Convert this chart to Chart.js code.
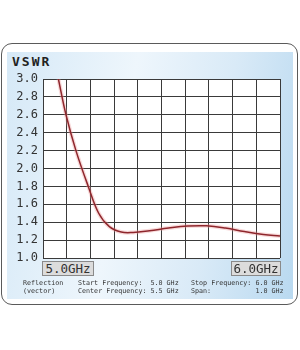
<!DOCTYPE html>
<html>
<head>
<meta charset="utf-8">
<script src="https://cdn.jsdelivr.net/npm/chart.js@4.4.1/dist/chart.umd.min.js"></script>
<style>
  body { margin: 0; width: 300px; height: 350px; background: #fff; position: relative; overflow: hidden; }
  .frame { position: absolute; left: 1px; top: 43px; width: 295px; height: 260px; border: 1.5px solid #5a5a5a; border-radius: 11px; background: #fff; }
  .panel { position: absolute; left: 7px; top: 52px; width: 286px; height: 247px;
           background: linear-gradient(100deg, #d6e9f7 0%, #eef6fc 40%, #d9eaf7 70%, #b9d9f0 100%); }
  .mono { font-family: "DejaVu Sans Mono", monospace; position: absolute; white-space: pre; }
  .title { left: 12px; top: 54px; font-size: 13px; font-weight: bold; letter-spacing: 2px; color: #222; }
  .box { top: 261px; height: 13px; line-height: 13px; font-size: 12.5px; color: #333; background: #dcdcdc; border: 1px solid #8a8a8a; box-sizing: content-box; text-align: center; }
  .info { font-size: 6.7px; line-height: 7.5px; color: #333; top: 280px; }
  #wrap { position: absolute; left: 0; top: 60px; width: 300px; height: 220px; }
</style>
</head>
<body>
<div class="frame"></div>
<div class="panel"></div>
<div class="mono title">VSWR</div>
<div id="wrap"><canvas id="myChart"></canvas></div>
<div class="mono box" style="left:42px; width:50px;">5.0GHz</div>
<div class="mono box" style="left:231px; width:48px;">6.0GHz</div>
<div class="mono info" style="left:23px;">Reflection
(vector)</div>
<div class="mono info" style="left:78px;">Start Frequency:  5.0 GHz
Center Frequency: 5.5 GHz</div>
<div class="mono info" style="left:191px;">Stop Frequency: 6.0 GHz
Span:           1.0 GHz</div>
<script>
// frequency in GHz, VSWR
const freqGHz = [5.065, 5.097, 5.139, 5.191, 5.235, 5.28, 5.33, 5.38, 5.45, 5.53, 5.61, 5.69, 5.77, 5.85, 5.93, 6.0];
const vswr = [3.0, 2.6, 2.2, 1.8, 1.5, 1.35, 1.29, 1.285, 1.305, 1.335, 1.357, 1.36, 1.335, 1.295, 1.262, 1.246];
const xMin = 5.0, xMax = 6.0, xStep = 0.1;
const yMin = 1.0, yMax = 3.0, yStep = 0.2;

const points = freqGHz.map((f, i) => ({ x: f, y: vswr[i] }));

const plotBg = {
    id: 'plotBg',
    beforeDraw(chart) {
        const a = chart.chartArea;
        const ctx = chart.ctx;
        ctx.save();
        ctx.fillStyle = '#ffffff';
        ctx.fillRect(a.left, a.top, a.right - a.left, a.bottom - a.top);
        ctx.restore();
    }
};

let ctx = document.getElementById('myChart').getContext('2d');
let chart = new Chart(ctx, {
    type: 'line',
    data: {
        datasets: [{
            data: points,
            borderColor: '#8e262c',
            borderWidth: 1.5,
            pointRadius: 0,
            tension: 0.4
        }, {
            // soft halo under the trace
            data: points,
            borderColor: 'rgba(236,150,150,0.35)',
            borderWidth: 4,
            pointRadius: 0,
            tension: 0.4
        }]
    },
    options: {
        responsive: true,
        maintainAspectRatio: false,
        animation: false,
        layout: { padding: { top: 19, right: 20, bottom: 22, left: 0 } },
        plugins: { legend: { display: false }, tooltip: { enabled: false } },
        scales: {
            x: {
                type: 'linear',
                min: xMin, max: xMax,
                ticks: { stepSize: xStep, display: false },
                grid: { color: '#3a3a3a', lineWidth: 1, drawTicks: false },
                border: { display: false },
                afterFit(scale) { scale.height = 0; }
            },
            y: {
                min: yMin, max: yMax,
                ticks: {
                    stepSize: yStep,
                    padding: 5,
                    color: '#333',
                    font: { family: 'DejaVu Sans Mono', size: 12 },
                    callback: v => v.toFixed(1)
                },
                grid: { color: '#3a3a3a', lineWidth: 1, drawTicks: false },
                border: { display: false },
                afterFit(scale) { scale.width = 43; }
            }
        }
    },
    plugins: [plotBg]
});
</script>
</body>
</html>
